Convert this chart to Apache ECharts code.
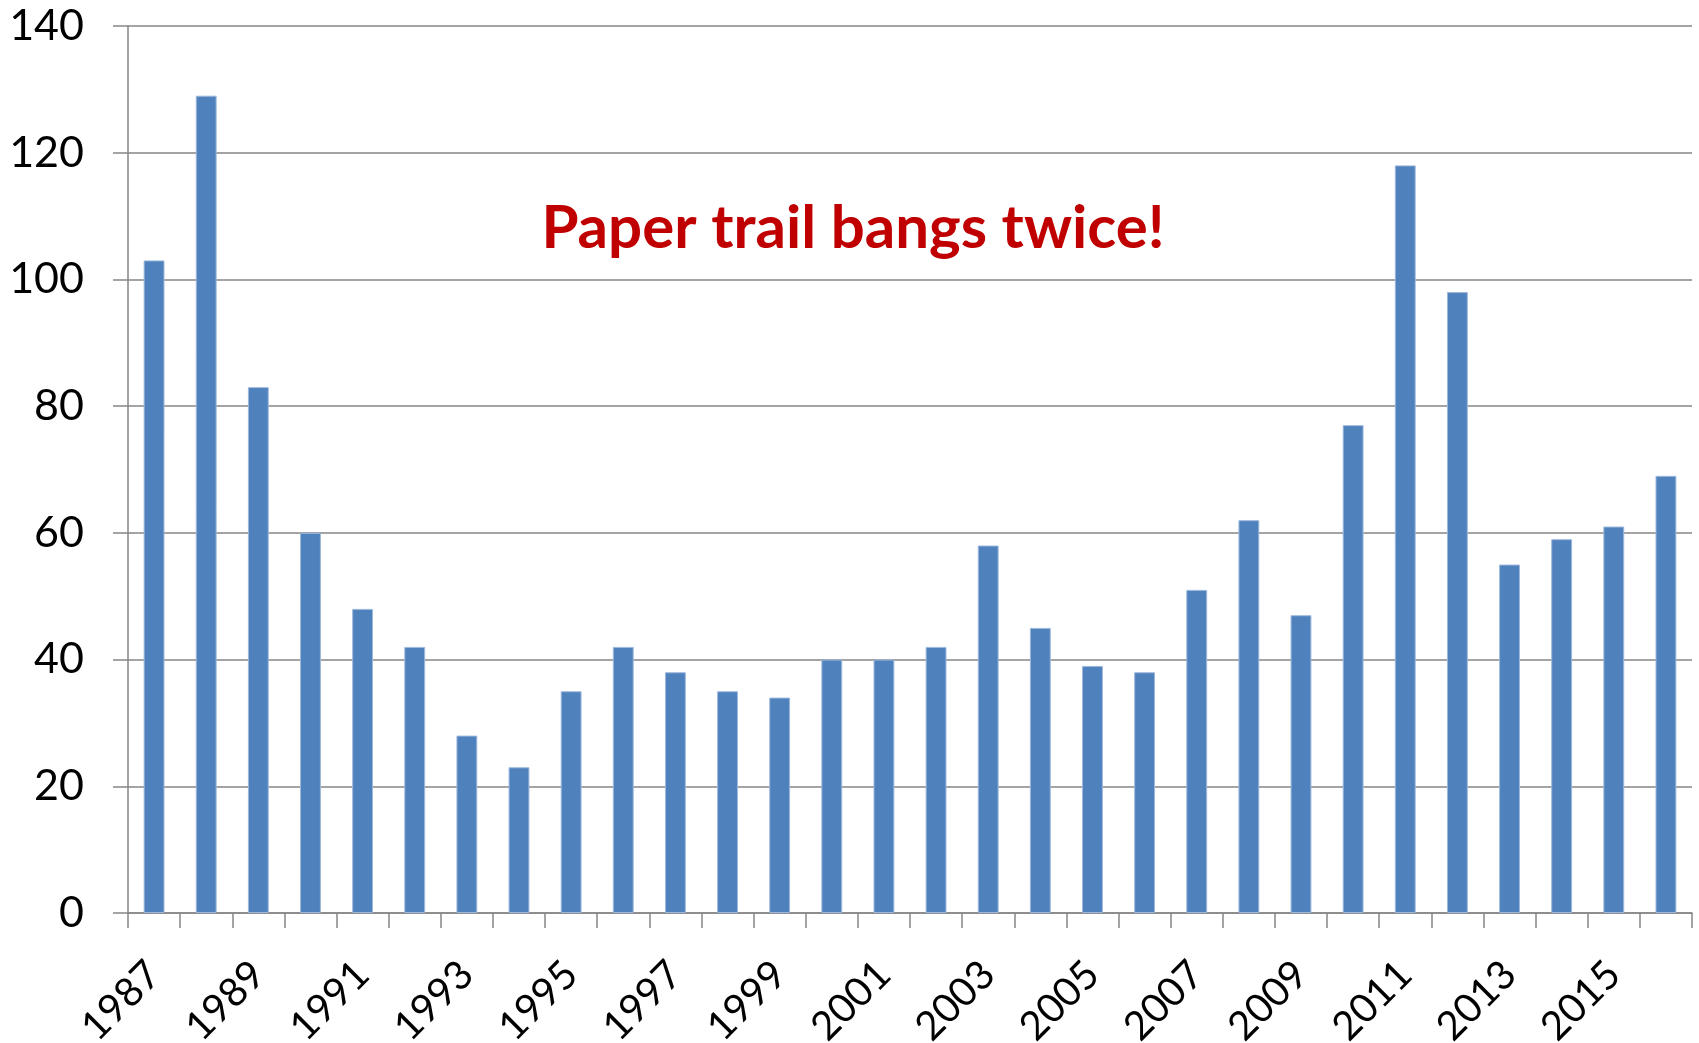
<!DOCTYPE html>
<html>
<head>
<meta charset="utf-8">
<script src="https://cdn.jsdelivr.net/npm/echarts@6/dist/echarts.min.js"></script>
<style>
  html, body { margin: 0; padding: 0; background: #ffffff; }
  #chart { width: 1699px; height: 1043px; }
</style>
</head>
<body>
<div id="chart"></div>
<script>
// Yearly counts, 1987–2016
const years = ['1987','1988','1989','1990','1991','1992','1993','1994','1995','1996',
               '1997','1998','1999','2000','2001','2002','2003','2004','2005','2006',
               '2007','2008','2009','2010','2011','2012','2013','2014','2015','2016'];
const counts = [103, 129, 83, 60, 48, 42, 28, 23, 35, 42,
                38, 35, 34, 40, 40, 42, 58, 45, 39, 38,
                51, 62, 47, 77, 118, 98, 55, 59, 61, 69];
const headline = 'Paper trail bangs twice!';

const axisGray = '#868686';
const chart = echarts.init(document.getElementById('chart'), null, { renderer: 'canvas' });

chart.setOption({
  animation: false,
  backgroundColor: '#ffffff',
  grid: { left: 128, right: 7, top: 26, bottom: 130, containLabel: false, outerBoundsMode: 'none' },
  title: {
    text: headline,
    left: 848,
    top: 194,
    textAlign: 'center',
    textStyle: {
      fontFamily: 'Lato',
      fontWeight: 'bold',
      fontSize: 60,
      color: '#C00000'
    }
  },
  xAxis: {
    type: 'category',
    data: years,
    boundaryGap: true,
    axisLine: { show: true, lineStyle: { color: axisGray, width: 1.5 } },
    axisTick: { show: true, interval: 0, length: 15, alignWithLabel: false,
                lineStyle: { color: axisGray, width: 1.5 } },
    axisLabel: {
      interval: 1,
      rotate: 45,
      margin: 55,
      fontFamily: 'Lato',
      fontSize: 40,
      color: '#000000'
    },
    splitLine: { show: false }
  },
  yAxis: {
    type: 'value',
    min: 0,
    max: 140,
    interval: 20,
    axisLine: { show: true, lineStyle: { color: axisGray, width: 1.5 } },
    axisTick: { show: true, length: 15, lineStyle: { color: axisGray, width: 1.5 } },
    axisLabel: {
      margin: 44,
      fontFamily: 'Lato',
      fontSize: 43,
      color: '#000000'
    },
    splitLine: { show: true, lineStyle: { color: axisGray, width: 1.5 } }
  },
  series: [{
    type: 'bar',
    data: counts,
    barWidth: '40%',
    itemStyle: {
      color: '#4F81BD',
      borderColor: '#9DB8DC',
      borderWidth: 1
    }
  }]
});
</script>
</body>
</html>
